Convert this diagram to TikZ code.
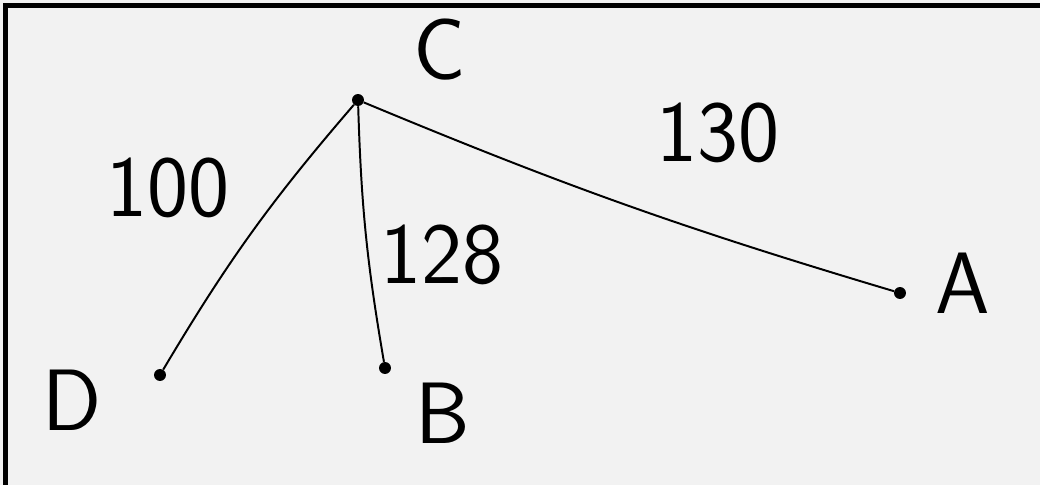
\documentclass[tikz,border=0pt]{standalone}
\usepackage{tikz}

\definecolor{paper}{HTML}{F2F2F2}

\begin{document}
\begin{tikzpicture}[x=0.025cm,y=-0.025cm,
  dot/.style={circle, fill=black, inner sep=0pt, minimum size=8.5pt},
  lbl/.style={font=\sffamily\fontsize{62}{68}\selectfont},
  edge/.style={line width=1.4pt}]
\fill[paper] (0,0) rectangle (1040,485);
\useasboundingbox (0,0) rectangle (1040,485);
\draw[line width=3pt] (5.5,485) -- (5.5,5.5) -- (1040,5.5);
\node[dot] (c) at (358,100) {};
\node[dot] (d) at (160,375) {};
\node[dot] (b) at (385,368) {};
\node[dot] (a) at (900,293) {};
\draw[edge] (c) to[bend right=5] (d);
\draw[edge] (c) to[bend right=4] (b);
\draw[edge] (c) to[bend right=3] (a);
\node[lbl] (lc) at (440,50) {C};
\node[lbl] (ld) at (72,400) {D};
\node[lbl] (lb) at (443,413) {B};
\node[lbl] (la) at (963,283) {A};
\node[lbl] (w1) at (168,188) {100};
\node[lbl] (w2) at (442,255) {128};
\node[lbl] (w3) at (718,133) {130};
\end{tikzpicture}
\end{document}
